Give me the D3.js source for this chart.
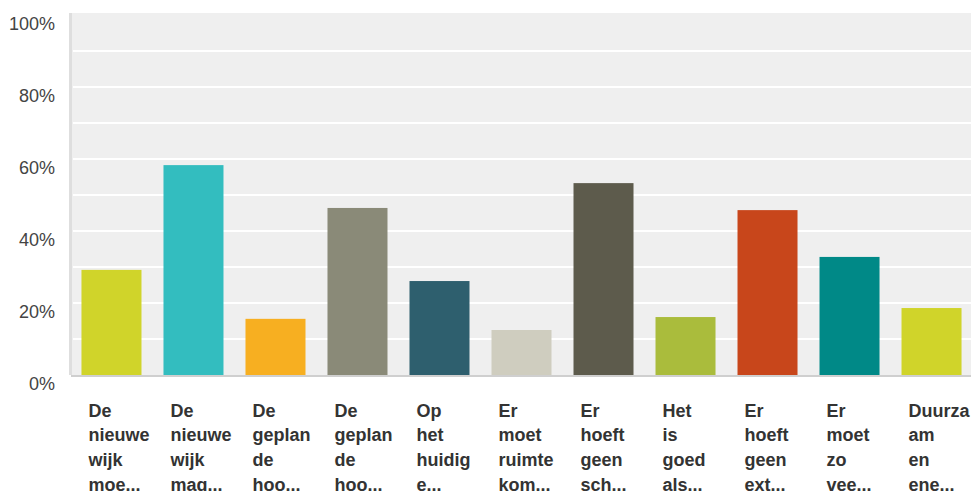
<!DOCTYPE html>
<html>
<head>
<meta charset="utf-8">
<script src="https://cdn.jsdelivr.net/npm/d3@7"></script>
<style>
  html, body { margin: 0; padding: 0; background: #fff; }
  svg { display: block; }
</style>
</head>
<body>
<svg id="chart" width="971" height="491"></svg>
<script>
const categories = [
  "De nieuwe wijk moe...",
  "De nieuwe wijk mag...",
  "De geplan de hoo...",
  "De geplan de hoo...",
  "Op het huidig e...",
  "Er moet ruimte kom...",
  "Er hoeft geen sch...",
  "Het is goed als...",
  "Er hoeft geen ext...",
  "Er moet zo vee...",
  "Duurza am en ene..."
];
const values = [29.2, 58.3, 15.6, 46.4, 26.1, 12.5, 53.3, 16.1, 45.8, 32.8, 18.6];
const colors = ["#d0d42a", "#33bdbf", "#f7af21", "#8a8a78", "#2e5f6e", "#cfcdbf",
                "#5d5b4c", "#aabc3c", "#c8461b", "#008987", "#d0d42a"];
const yTicks = [0, 20, 40, 60, 80, 100];
const gridValues = [10, 20, 30, 40, 50, 60, 70, 80, 90];

const svg = d3.select("#chart");
const mLeft = 70, mRight = 971, mTop = 15, mBottom = 375;

const x = d3.scaleBand().domain(d3.range(categories.length)).range([mLeft, 973])
  .paddingInner(22 / 82).paddingOuter(0.14);
const y = d3.scaleLinear().domain([0, 100]).range([mBottom, mTop]);

// plot background
svg.append("rect").attr("x", mLeft).attr("y", 13).attr("width", mRight - mLeft)
  .attr("height", mBottom - 13).attr("fill", "#efefef");

// gridlines
svg.append("g").selectAll("line").data(gridValues).join("line")
  .attr("x1", 73).attr("x2", mRight)
  .attr("y1", d => y(d)).attr("y2", d => y(d))
  .attr("stroke", "#ffffff").attr("stroke-width", 2);

// left axis bar
svg.append("rect").attr("x", 69).attr("y", 13).attr("width", 3)
  .attr("height", mBottom - 13).attr("fill", "#dedede");

// bars
svg.append("g").selectAll("rect").data(values).join("rect")
  .attr("x", (d, i) => x(i))
  .attr("width", x.bandwidth())
  .attr("y", d => y(d))
  .attr("height", d => mBottom - y(d))
  .attr("fill", (d, i) => colors[i]);

// bottom axis line
svg.append("rect").attr("x", 71).attr("y", mBottom).attr("width", mRight - 71)
  .attr("height", 2).attr("fill", "#cfcfcf");

// y tick labels
svg.append("g").selectAll("text").data(yTicks).join("text")
  .attr("x", 55)
  .attr("y", d => y(d) + 9)
  .attr("text-anchor", "end")
  .attr("dominant-baseline", "central")
  .attr("font-family", "Liberation Sans, Arial, sans-serif")
  .attr("font-size", 18)
  .attr("fill", "#444")
  .text(d => d + "%");

// category labels
const lab = svg.append("g").selectAll("text").data(categories).join("text")
  .attr("x", (d, i) => x(i) + 7)
  .attr("y", 416.7)
  .attr("font-family", "Liberation Sans, Arial, sans-serif")
  .attr("font-size", 18)
  .attr("font-weight", "bold")
  .attr("fill", "#333");
lab.each(function(d) {
  const t = d3.select(this);
  const parts = d.split(" ");
  parts.forEach((p, k) => {
    t.append("tspan").attr("x", t.attr("x")).attr("dy", k === 0 ? 0 : 24.6).text(p);
  });
});
</script>
</body>
</html>
